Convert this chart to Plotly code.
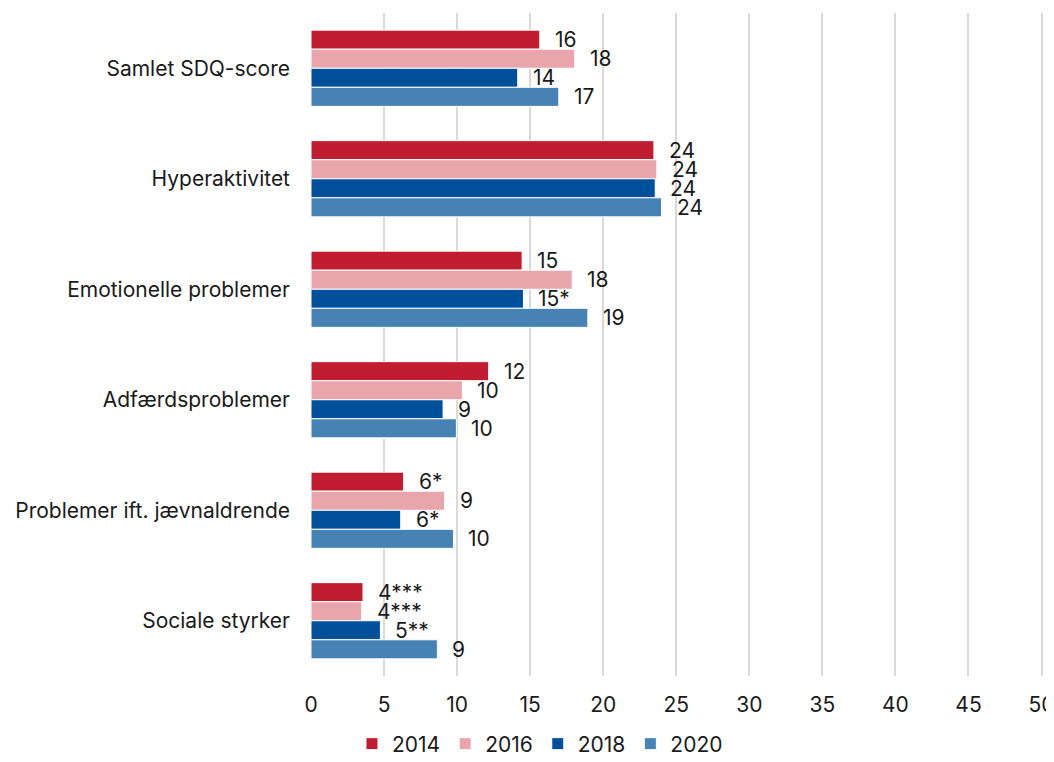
import plotly.graph_objects as go

categories = ["Samlet SDQ-score", "Hyperaktivitet", "Emotionelle problemer",
              "Adfærdsproblemer", "Problemer ift. jævnaldrende", "Sociale styrker"]
years = ["2014", "2016", "2018", "2020"]
values_2014 = [15.66, 23.47, 14.45, 12.16, 6.34, 3.56]
values_2016 = [18.05, 23.67, 17.88, 10.36, 9.15, 3.47]
values_2018 = [14.15, 23.56, 14.54, 9.04, 6.14, 4.75]
values_2020 = [16.96, 23.99, 18.95, 9.95, 9.75, 8.65]
labels_2014 = ["16", "24", "15", "12", "6*", "4***"]
labels_2016 = ["18", "24", "18", "10", "9", "4***"]
labels_2018 = ["14", "24", "15*", "9", "6*", "5**"]
labels_2020 = ["17", "24", "19", "10", "10", "9"]
colors = ["#C01E30", "#E8A6AC", "#004F9B", "#4682B4"]
x_ticks = [0, 5, 10, 15, 20, 25, 30, 35, 40, 45, 50]

series = [values_2014, values_2016, values_2018, values_2020]
labels = [labels_2014, labels_2016, labels_2018, labels_2020]

font = "Inter, Roboto, sans-serif"
fs = 21
fig = go.Figure()
for yr, vals, col in zip(years, series, colors):
    fig.add_trace(go.Bar(
        y=categories, x=vals, name=yr, orientation="h",
        marker=dict(color=col, line=dict(color="white", width=1)),
        hoverinfo="skip",
    ))

# value labels via annotations (offset right of bar end)
n = len(years)
bargap = 0.31
group_w = 1 - bargap
bar_w = group_w / n
for i, (vals, labs) in enumerate(zip(series, labels)):
    for j, (v, t) in enumerate(zip(vals, labs)):
        offset = -group_w / 2 + bar_w * (i + 0.5)
        fig.add_annotation(
            x=v, y=j + offset, xref="x", yref="y", text=t,
            showarrow=False, xanchor="left", yanchor="middle",
            xshift=13, font=dict(family=font, size=fs, color="#1a1a1a"),
        )

fig.update_layout(
    width=1038, height=746,
    margin=dict(l=303, r=3, t=5, b=78, autoexpand=False),
    paper_bgcolor="white", plot_bgcolor="white",
    barmode="group", bargap=bargap, bargroupgap=0,
    font=dict(family=font, size=fs, color="#1a1a1a"),
    showlegend=True,
    legend=dict(orientation="h", xref="container", yref="container",
                x=0.5125, xanchor="center", y=0.0134, yanchor="middle",
                font=dict(size=fs), traceorder="normal", itemwidth=30,
                tracegroupgap=0),
    xaxis=dict(range=[0, 50.1], tickvals=x_ticks, showgrid=True,
               gridcolor="#D9D9D9", gridwidth=2, zeroline=False,
               showline=False, ticks="", ticklabelstandoff=14,
               ticklabeloverflow="allow",
               tickfont=dict(size=fs), automargin=False),
    yaxis=dict(type="category", categoryorder="array", categoryarray=categories,
               autorange="reversed", showgrid=False, showline=False,
               ticks="", ticklabelstandoff=20, tickfont=dict(size=fs),
               automargin=False),
)

fig.write_html("out.html")
